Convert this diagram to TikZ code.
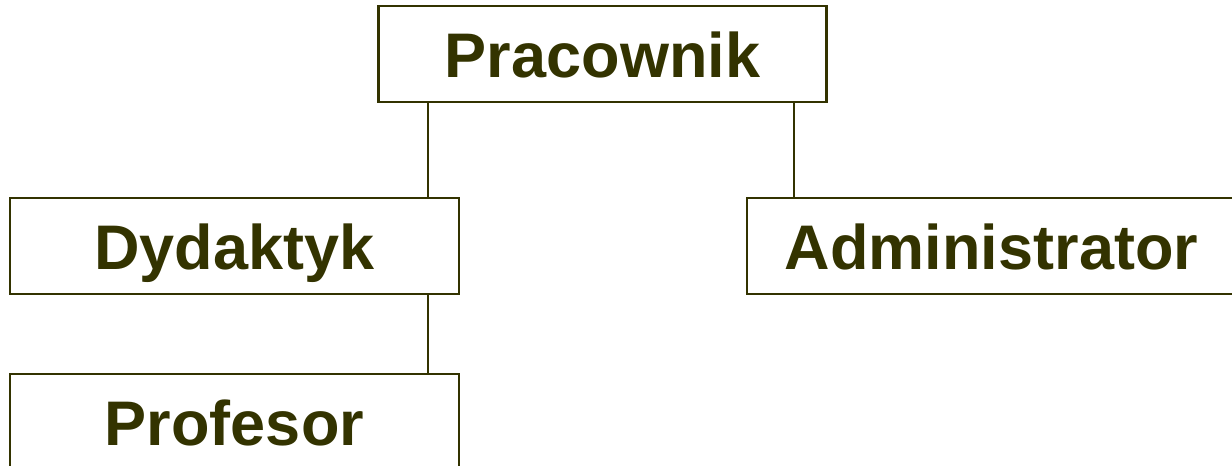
\documentclass[tikz,border=0pt]{standalone}
\usepackage{fontspec}
\setmainfont{Liberation Sans}
\definecolor{olivedark}{RGB}{51,51,0}
\begin{document}
\begin{tikzpicture}[x=1pt,y=-1pt,
  classbox/.style={draw=olivedark, line width=2.5pt, fill=white, inner sep=0pt,
    minimum height=96pt, text=olivedark,
    font=\fontsize{63pt}{70pt}\selectfont\bfseries,
    text height=46pt, text depth=0pt},
  link/.style={draw=olivedark, line width=2.2pt}]
  \useasboundingbox (0,0) rectangle (1232,466);
  % class hierarchy
  \node[classbox, minimum width=448pt] (prac) at (602.5,54) {Pracownik};
  \node[classbox, minimum width=449pt] (dyd) at (234.5,246) {Dydaktyk};
  \node[classbox, minimum width=489pt] (adm) at (991.5,246) {Administrator};
  \node[classbox, minimum width=449pt] (prof) at (234.5,422) {Profesor};
  % generalisation links
  \draw[link] ([xshift=-32pt]dyd.north east) -- ([xshift=-32pt]dyd.north east |- prac.south);
  \draw[link] ([xshift=48pt]adm.north west) -- ([xshift=48pt]adm.north west |- prac.south);
  \draw[link] ([xshift=-32pt]dyd.south east) -- ([xshift=-32pt]prof.north east);
\end{tikzpicture}
\end{document}
